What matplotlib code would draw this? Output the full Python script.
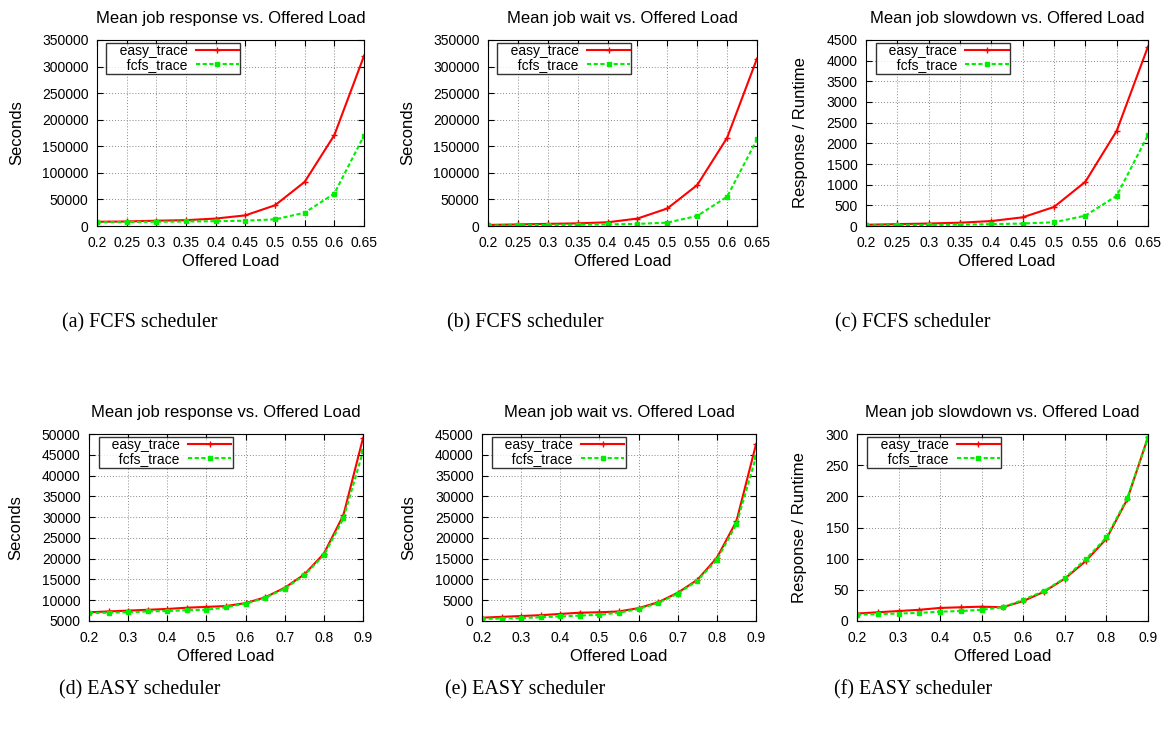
import matplotlib
matplotlib.use("Agg")
import matplotlib.pyplot as plt
import numpy as np

plt.rcParams['font.family'] = ['Liberation Sans', 'DejaVu Sans']

# offered load values
load_fcfs = [0.2, 0.25, 0.3, 0.35, 0.4, 0.45, 0.5, 0.55, 0.6, 0.65]
load_easy = [0.2, 0.25, 0.3, 0.35, 0.4, 0.45, 0.5, 0.55, 0.6, 0.65, 0.7, 0.75, 0.8, 0.85, 0.9]

# FCFS scheduler runs (top row)
resp_fcfs_easy = [8000, 8500, 10000, 11000, 14000, 20000, 39000, 83000, 171000, 320000]
resp_fcfs_fcfs = [7000, 7500, 8000, 8500, 9000, 10000, 12500, 25000, 61000, 170000]
wait_fcfs_easy = [2000, 3000, 4000, 5000, 7000, 14000, 33000, 77000, 166000, 315000]
wait_fcfs_fcfs = [1000, 1500, 2000, 2500, 3000, 4000, 6300, 19000, 55000, 163000]
slow_fcfs_easy = [30, 45, 60, 80, 120, 210, 460, 1070, 2300, 4340]
slow_fcfs_fcfs = [15, 20, 25, 35, 45, 60, 90, 250, 730, 2200]

# EASY scheduler runs (bottom row)
resp_easy_easy = [7100, 7300, 7500, 7700, 7900, 8200, 8400, 8600, 9300, 10700, 13000, 16200, 21200, 30500, 49000]
resp_easy_fcfs = [6900, 7000, 7100, 7300, 7400, 7600, 7700, 8300, 9200, 10600, 12800, 16000, 20800, 29700, 45800]
wait_easy_easy = [800, 1000, 1200, 1400, 1700, 2000, 2100, 2300, 3100, 4500, 6800, 9900, 15200, 24000, 42500]
wait_easy_fcfs = [500, 600, 700, 900, 1100, 1300, 1500, 2000, 2900, 4300, 6600, 9700, 14700, 23300, 39500]
slow_easy_easy = [12, 14, 16, 18, 21, 22, 23, 22, 32, 47, 68, 96, 132, 195, 295]
slow_easy_fcfs = [10, 11, 12, 13, 15, 16, 18, 22, 34, 48, 69, 99, 134, 197, 294]

titles = ['Mean job response vs. Offered Load',
          'Mean job wait vs. Offered Load',
          'Mean job slowdown vs. Offered Load']
ylabels = ['Seconds', 'Seconds', 'Response / Runtime']
captions = ['(a) FCFS scheduler', '(b) FCFS scheduler', '(c) FCFS scheduler',
            '(d) EASY scheduler', '(e) EASY scheduler', '(f) EASY scheduler']

panels = [
    (load_fcfs, resp_fcfs_easy, resp_fcfs_fcfs, (0, 350000), 50000),
    (load_fcfs, wait_fcfs_easy, wait_fcfs_fcfs, (0, 350000), 50000),
    (load_fcfs, slow_fcfs_easy, slow_fcfs_fcfs, (0, 4500), 500),
    (load_easy, resp_easy_easy, resp_easy_fcfs, (5000, 50000), 5000),
    (load_easy, wait_easy_easy, wait_easy_fcfs, (0, 45000), 5000),
    (load_easy, slow_easy_easy, slow_easy_fcfs, (0, 300), 50),
]

W, H = 1169, 734
# plot boxes in pixels: left, top, right, bottom
boxes = [(97, 40, 364, 226), (488, 40, 757, 226), (866, 40, 1148, 226),
         (89, 434, 363, 621), (482, 434, 756, 621), (857, 434, 1148, 621)]
cap_pos = [(140, 323), (525, 323), (913, 323), (140, 690), (525, 690), (913, 690)]

fig = plt.figure(figsize=(W / 100, H / 100), dpi=100)

for i, (x, easy, fcfs, ylim, ystep) in enumerate(panels):
    l, t, r, b = boxes[i]
    ax = fig.add_axes([l / W, 1 - b / H, (r - l) / W, (b - t) / H])
    ax.plot(x, easy, color='red', lw=1.5, marker='+', ms=4, mew=1, label='   easy_trace')
    ax.plot(x, fcfs, color='#00ee00', lw=1.5, ls=(0, (2, 1.2)), marker='s', ms=2.5,
            label='   fcfs_trace')
    ax.set_xlim(x[0], x[-1])
    ax.set_ylim(*ylim)
    if len(x) == 10:
        ax.set_xticks(x)
        ax.set_xticklabels(['%g' % v for v in x])
    else:
        xt = np.arange(0.2, 0.91, 0.1)
        ax.set_xticks(xt)
        ax.set_xticklabels(['%g' % round(v, 1) for v in xt])
    ax.set_yticks(np.arange(ylim[0], ylim[1] + 1, ystep))
    ax.tick_params(direction='in', top=True, right=True, length=4, labelsize=10)
    ax.tick_params(axis='x', pad=7)
    ax.tick_params(axis='y', pad=6)
    ax.grid(True, color='#888888', ls=(0, (1, 2)), lw=0.7)
    ax.set_title(titles[i % 3], fontsize=12, pad=12)
    ax.set_xlabel('Offered Load', fontsize=12, labelpad=3)
    ax.set_ylabel(ylabels[i % 3], fontsize=12, labelpad=13)
    leg = ax.legend(loc='upper left', bbox_to_anchor=(0.035, 0.985), markerfirst=False,
                    fontsize=10, frameon=True, fancybox=False, borderpad=0.1,
                    labelspacing=0.0, handlelength=3.1, borderaxespad=0, handletextpad=0.6)
    leg.get_frame().set_edgecolor('black')
    leg.get_frame().set_linewidth(1.0)
    for txt in leg.get_texts():
        txt.set_ha('right')
    fig.text(cap_pos[i][0] / W, 1 - cap_pos[i][1] / H, captions[i], ha='center', va='center',
             fontsize=14.4, family='Liberation Serif')

fig.savefig('out.png', dpi=100)
